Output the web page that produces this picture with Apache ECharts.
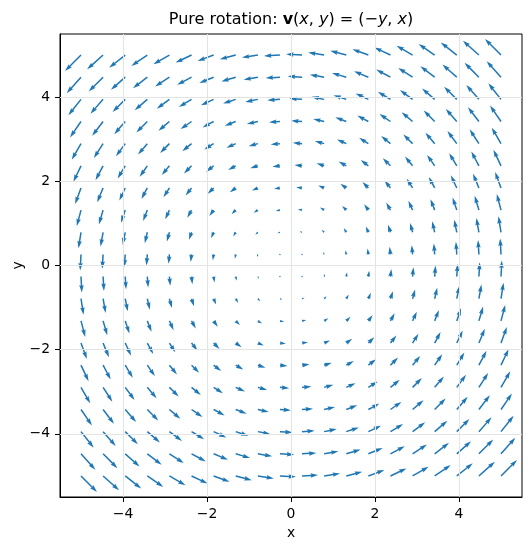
<!DOCTYPE html>
<html><head><meta charset="utf-8">
<script src="https://cdn.jsdelivr.net/npm/echarts@6/dist/echarts.min.js"></script>
<style>html,body{margin:0;padding:0;background:#fff}#c{width:531px;height:549px}</style>
</head><body><div id="c"></div>
<script>
// grid positions (x columns, y rows)
const gridX = [-5, -4.474, -3.947, -3.421, -2.895, -2.368, -1.842, -1.316, -0.789, -0.263, 0.263, 0.789, 1.316, 1.842, 2.368, 2.895, 3.421, 3.947, 4.474, 5];
const gridY = [-5, -4.474, -3.947, -3.421, -2.895, -2.368, -1.842, -1.316, -0.789, -0.263, 0.263, 0.789, 1.316, 1.842, 2.368, 2.895, 3.421, 3.947, 4.474, 5];
// horizontal component per row (u = -y) and vertical component per column (v = x)
const uByRow = [5, 4.474, 3.947, 3.421, 2.895, 2.368, 1.842, 1.316, 0.789, 0.263, -0.263, -0.789, -1.316, -1.842, -2.368, -2.895, -3.421, -3.947, -4.474, -5];
const vByCol = [-5, -4.474, -3.947, -3.421, -2.895, -2.368, -1.842, -1.316, -0.789, -0.263, 0.263, 0.789, 1.316, 1.842, 2.368, 2.895, 3.421, 3.947, 4.474, 5];
const xTicks = [-4, -2, 0, 2, 4];
const yTicks = [-4, -2, 0, 2, 4];
const xName = 'x';
const yName = 'y';

const table = [];
gridY.forEach((y, i) => gridX.forEach((x, j) => table.push([x, y, uByRow[i], vByCol[j]])));

const COLOR = '#1f77b4';
const W = 1.5;     // shaft width px
const K = 3.2;     // px per unit of magnitude
const FONT = 'DejaVu Sans';
const TS = 16;

function renderItem(params, api) {
  const p = api.coord([api.value(0), api.value(1)]);
  const u = api.value(2), v = api.value(3);
  const L = Math.hypot(u, v) * K / W;
  let X, Y;
  if (L < 1) {
    X = []; Y = [];
    for (let k = 0; k < 8; k++) { X.push(0.5 * Math.cos(k * Math.PI / 3)); Y.push(0.5 * Math.sin(k * Math.PI / 3)); }
  } else if (L < 5) {
    const s = L / 5;
    X = [0, 0.5, 0, 5, 0, 0.5, 0, 0].map(a => a * s);
    Y = [0.5, 0.5, 1.5, 0, -1.5, -0.5, -0.5, 0.5].map(a => a * s);
  } else {
    X = [0, L - 4.5, L - 5, L, L - 5, L - 4.5, 0, 0];
    Y = [0.5, 0.5, 1.5, 0, -1.5, -0.5, -0.5, 0.5];
  }
  const th = Math.atan2(-v, u);
  const c = Math.cos(th), s = Math.sin(th);
  const points = X.map((x, i) => [p[0] + W * (x * c - Y[i] * s), p[1] + W * (x * s + Y[i] * c)]);
  return { type: 'polygon', shape: { points }, style: { fill: COLOR } };
}

const fmt = v => String(v).replace('-', '\u2212');
const gridLineStyle = { color: '#e4e4e4', width: 1, type: 'solid' };

const chart = echarts.init(document.getElementById('c'), null, { renderer: 'canvas' });
chart.setOption({
  animation: false,
  backgroundColor: '#fff',
  grid: { left: 60, right: 9, top: 34, bottom: 52, containLabel: false, outerBoundsMode: 'none',
          show: true, borderColor: '#000', borderWidth: 1, backgroundColor: 'transparent' },
  graphic: [{
    type: 'text', x: 291, y: 20,
    style: {
      text: '{n|Pure rotation: }{b|v}{n|(}{i|x}{n|, }{i|y}{n|) = (\u2212}{i|y}{n|, }{i|x}{n|)}',
      align: 'center', verticalAlign: 'middle', textAlign: 'center', textVerticalAlign: 'middle',
      fontFamily: FONT, fontSize: TS, fill: '#000',
      rich: {
        n: { fontFamily: FONT, fontSize: TS, color: '#000' },
        b: { fontFamily: FONT, fontSize: TS, fontWeight: 'bold', color: '#000' },
        i: { fontFamily: FONT, fontSize: TS, fontStyle: 'italic', color: '#000' }
      }
    }
  }],
  xAxis: {
    type: 'value', min: -5.5, max: 5.5,
    name: xName, nameLocation: 'middle', nameGap: 29, nameMoveOverlap: false,
    nameTextStyle: { fontFamily: FONT, fontSize: 13.9, color: '#000' },
    axisLine: { show: true, onZero: false, lineStyle: { color: '#000', width: 1 } },
    axisTick: { show: true, length: 5, customValues: xTicks, lineStyle: { color: '#000', width: 1 } },
    axisLabel: { customValues: xTicks, formatter: fmt, margin: 10, fontFamily: FONT, fontSize: 13.9, color: '#000' },
    splitLine: { show: false }
  },
  yAxis: {
    type: 'value', min: -5.5, max: 5.5,
    name: yName, nameLocation: 'middle', nameGap: 35, nameRotate: 90, nameMoveOverlap: false,
    nameTextStyle: { fontFamily: FONT, fontSize: 13.9, color: '#000' },
    axisLine: { show: true, onZero: false, lineStyle: { color: '#000', width: 1 } },
    axisTick: { show: true, length: 5, customValues: yTicks, lineStyle: { color: '#000', width: 1 } },
    axisLabel: { customValues: yTicks, formatter: fmt, margin: 10, fontFamily: FONT, fontSize: 13.9, color: '#000' },
    splitLine: { show: false }
  },
  series: [
    {
      type: 'line', data: [], z: 1, silent: true,
      markLine: {
        silent: true, symbol: 'none', animation: false,
        label: { show: false },
        lineStyle: gridLineStyle,
        data: xTicks.map(t => ({ xAxis: t })).concat(yTicks.map(t => ({ yAxis: t })))
      }
    },
    {
      type: 'custom', z: 2, silent: true,
      renderItem: renderItem,
      data: table,
      clip: false
    }
  ]
});
</script></body></html>
